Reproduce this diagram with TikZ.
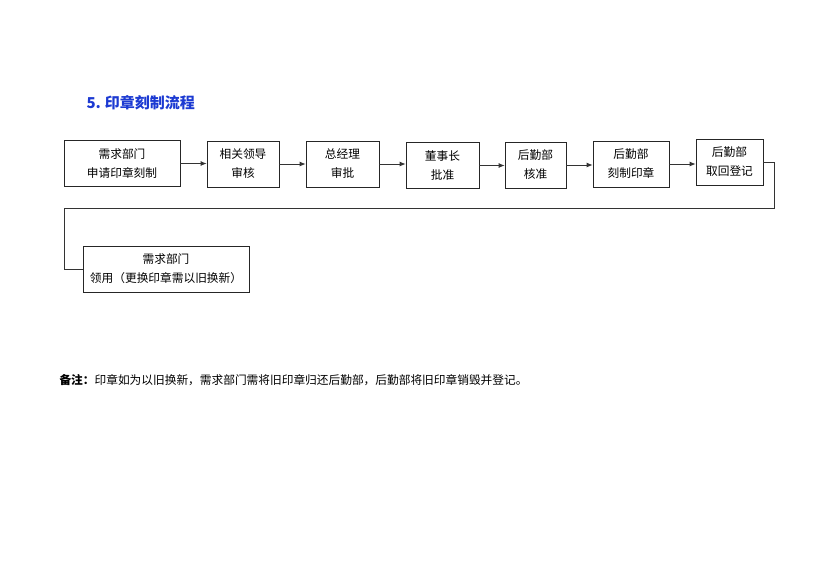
\documentclass[tikz,border=0pt]{standalone}
\usepackage{fontspec}
\setmainfont{Noto Sans CJK SC}
\usepackage{tikz}
\usetikzlibrary{arrows.meta, positioning}
\definecolor{titleblue}{RGB}{28,58,210}
\tikzset{>={Latex[length=6pt,width=5pt]}}
\tikzset{
  stepbox/.style={draw=black!85, line width=0.8pt, minimum height=46pt, inner sep=0pt,
    align=center, font=\fontsize{11.7}{19}\selectfont},
  flowline/.style={draw=black!80, line width=0.8pt}
}

\begin{document}
\begin{tikzpicture}[x=1pt, y=-1pt]
        \useasboundingbox (0,0) rectangle (830,587);
        % title
        \node[anchor=west, text=titleblue, font=\fontsize{15}{17}\selectfont\bfseries] (title) at (83,103) {5.\hspace{4pt}印章刻制流程};

        % first row
        \node[stepbox, minimum width=116pt] (apply) at (122,163.5) {需求部门\\申请印章刻制};
        \node[stepbox, minimum width=72pt] (leader) at (243,164) {相关领导\\审核};
        \node[stepbox, minimum width=73pt] (manager) at (342.5,164) {总经理\\审批};
        \node[stepbox, minimum width=73pt] (chair) at (442.5,165.5) {董事长\\批准};
        \node[stepbox, minimum width=61pt] (check) at (535.5,165) {后勤部\\核准};
        \node[stepbox, minimum width=76pt] (carve) at (631,164) {后勤部\\刻制印章};
        \node[stepbox, minimum width=67pt] (register) at (729.5,162) {后勤部\\取回登记};

        % second row
        \node[stepbox, minimum width=166pt] (receive) at (166,269) {需求部门\\领用（更换印章需以旧换新）};

        \draw[flowline, ->] (apply.east) -- (apply.east -| leader.west);
        \draw[flowline, ->] (leader.east) -- (leader.east -| manager.west);
        \draw[flowline, ->] (manager.east) -- (manager.east -| chair.west);
        \draw[flowline, ->] (chair.east) -- (chair.east -| check.west);
        \draw[flowline, ->] (check.east) -- (check.east -| carve.west);
        \draw[flowline, ->] (carve.east) -- (carve.east -| register.west);

        % return line
        \coordinate (turnR) at (774,208);
        \coordinate (turnL) at (64,208);
        \draw[flowline] (register.east) -| (turnR) -- (turnL) |- (receive.west);

        % note
        \node[anchor=west, font=\fontsize{11.7}{14}\selectfont] (note) at (56,380)
          {{\bfseries 备注：}印章如为以旧换新，需求部门需将旧印章归还后勤部，后勤部将旧印章销毁并登记。};
\end{tikzpicture}
\end{document}
